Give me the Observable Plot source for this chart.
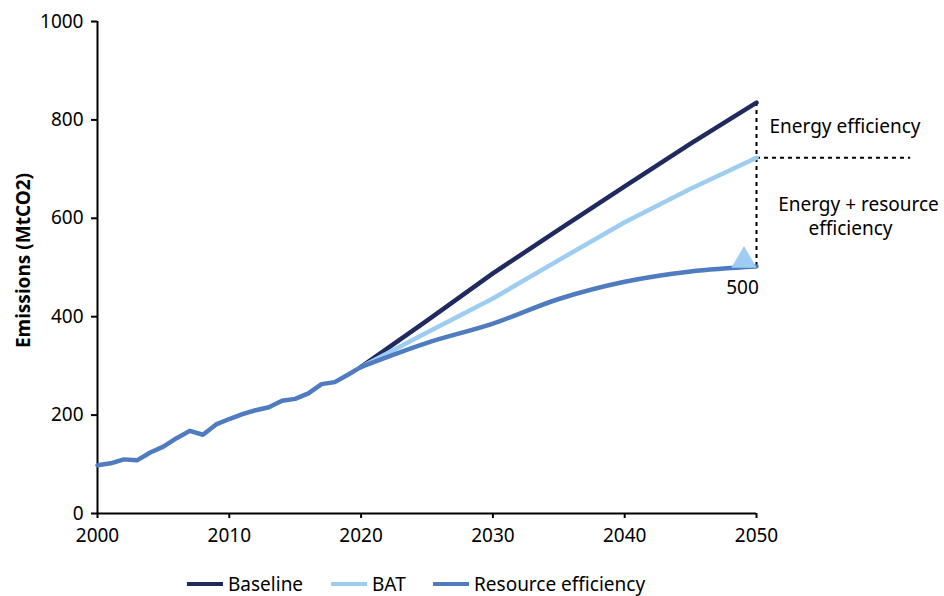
<!DOCTYPE html>
<html>
<head>
<meta charset="utf-8">
<script src="https://cdn.jsdelivr.net/npm/d3@7"></script>
<script src="https://cdn.jsdelivr.net/npm/@observablehq/plot@0.6"></script>
<style>
  body { margin: 0; background: #fff; font-family: "Noto Sans", sans-serif; }
  #legend { position: relative; height: 36px; font-size: 19px; color: #000; }
  .item { position: absolute; top: 11px; display: flex; align-items: center; }
  .sw { width: 36px; height: 4px; margin-right: 5px; }
</style>
</head>
<body>
<div id="chart"></div>
<div id="legend"></div>
<script>
// Historical emissions (shared by all scenarios)
const histYears = [2000,2001,2002,2003,2004,2005,2006,2007,2008,2009,2010,2011,2012,2013,2014,2015,2016,2017,2018,2019,2020];
const histValues = [98,102,110,108,124,136,153,168,160,181,192,202,210,216,229,233,244,263,267,282,298];

// Projections
const projYears = [2020,2025,2030,2035,2040,2045,2050];
const baseline = [298,392,488,577,665,752,835];
const bat = [298,368,437,515,592,660,723];
const resourceEff = [298,347,386,436,471,492,502];

const seriesNames = ["Baseline","BAT","Resource efficiency"];
const seriesColors = ["#1f2a5e","#9dcdf0","#4f7bc0"];
const xTicks = [2000,2010,2020,2030,2040,2050];
const yTicks = [0,200,400,600,800,1000];
const yLabel = "Emissions (MtCO2)";
const annotations = ["Energy efficiency", "Energy + resource", "efficiency", "500"];

const hist = histYears.map((x,i)=>({x, y: histValues[i]}));
const proj = [baseline, bat, resourceEff].map(arr => projYears.map((x,i)=>({x, y: arr[i]})));
const last = a => a[a.length-1];
const endX = last(projYears);
const fs = 19;

const font = "'Noto Sans', sans-serif";

const plot = Plot.plot({
  width: 944,
  height: 560,
  marginLeft: 97,
  marginRight: 188,
  marginTop: 21,
  marginBottom: 47,
  style: {fontFamily: font, fontSize: fs + "px", color: "#000", background: "#fff"},
  x: {domain: [2000, 2050]},
  y: {domain: [0, 1000]},
  marks: [
    Plot.axisX({ticks: xTicks, tickFormat: d => String(d), tickSize: 5, tickPadding: 10, strokeWidth: 2, label: null, fontSize: fs}),
    Plot.axisY({ticks: yTicks, tickFormat: d => String(d), tickSize: 6, tickPadding: 8, strokeWidth: 2, label: null, fontSize: fs}),
    Plot.ruleY([0], {stroke: "#000", strokeWidth: 2}),
    Plot.ruleX([2000], {stroke: "#000", strokeWidth: 2}),
    Plot.text([yLabel], {frameAnchor: "left", textAnchor: "middle", rotate: -90, dx: -74, dy: -7, fontWeight: "bold", fontSize: fs}),
    // dashed annotation lines
    Plot.ruleX([endX], {y1: last(resourceEff), y2: last(baseline), stroke: "#000", strokeWidth: 2, strokeDasharray: "4,4", clip: false}),
    Plot.ruleY([last(bat)], {x1: endX, x2: endX + 11.7, stroke: "#000", strokeWidth: 2, strokeDasharray: "4,4", clip: false}),
    // lines
    Plot.line(proj[0], {x: "x", y: "y", stroke: seriesColors[0], strokeWidth: 4.5}),
    Plot.line(proj[1], {x: "x", y: "y", stroke: seriesColors[1], strokeWidth: 4.5}),
    Plot.line(proj[2], {x: "x", y: "y", stroke: seriesColors[2], strokeWidth: 4.5, curve: "monotone-x"}),
    Plot.line(hist, {x: "x", y: "y", stroke: seriesColors[2], strokeWidth: 4.5}),
    // triangle marker
    Plot.dot([{x: endX, y: last(resourceEff)}], {x: "x", y: "y", symbol: "triangle", r: 9.4, fill: seriesColors[1], stroke: "none", dx: -12.5, dy: -6}),
    // annotations
    Plot.text([{x: endX, y: (last(baseline)+last(bat))/2}], {x: "x", y: "y", text: () => annotations[0], textAnchor: "start", dx: 13, dy: -3, fontSize: fs}),
    Plot.text([{x: endX, y: (last(bat)+last(resourceEff))/2}], {x: "x", y: "y", text: () => annotations[1], textAnchor: "middle", dx: 102, dy: -7, fontSize: fs}),
    Plot.text([{x: endX, y: (last(bat)+last(resourceEff))/2}], {x: "x", y: "y", text: () => annotations[2], textAnchor: "middle", dx: 94, dy: 17, fontSize: fs}),
    Plot.text([{x: endX, y: last(resourceEff)}], {x: "x", y: "y", text: () => annotations[3], textAnchor: "middle", dx: -14, dy: 21, fontSize: fs})
  ]
});
document.getElementById("chart").appendChild(plot);

const legendPos = [187, 331, 433];
const legend = document.getElementById("legend");
seriesNames.forEach((name, i) => {
  const it = document.createElement("div");
  it.className = "item";
  it.style.left = legendPos[i] + "px";
  const sw = document.createElement("div");
  sw.className = "sw";
  sw.style.background = seriesColors[i];
  const t = document.createElement("span");
  t.textContent = name;
  it.appendChild(sw); it.appendChild(t);
  legend.appendChild(it);
});
</script>
</body>
</html>
